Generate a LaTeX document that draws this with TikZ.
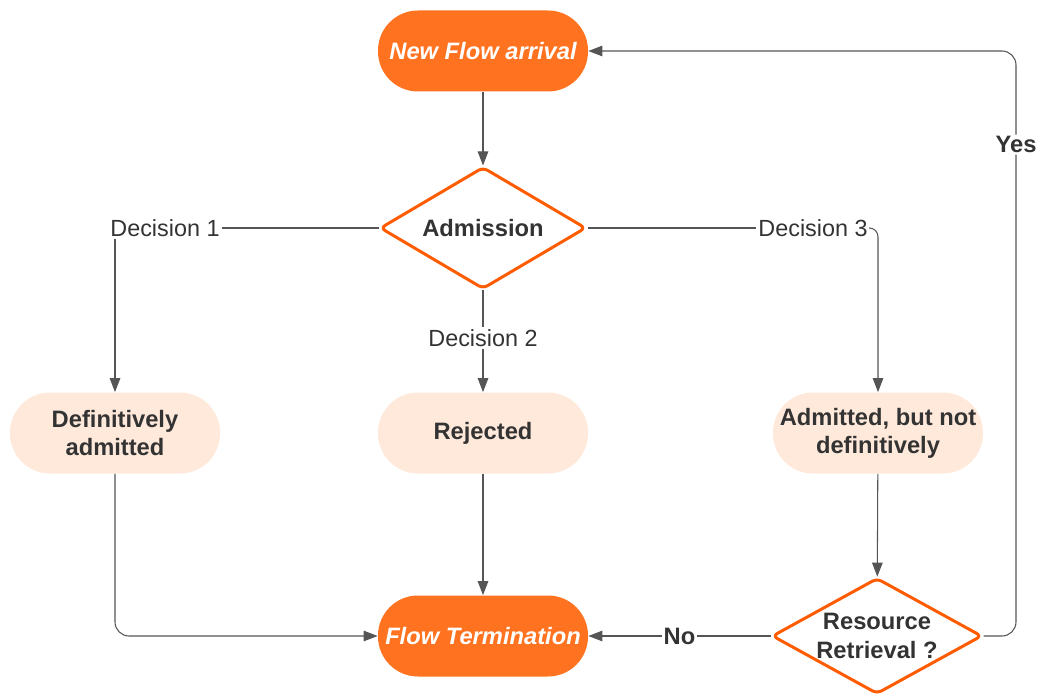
\documentclass[tikz,border=0pt]{standalone}
\usepackage{fontspec}
\setmainfont{Liberation Sans}
\usepackage{tikz}
\usetikzlibrary{
    shapes.geometric,
    arrows.meta
}
\definecolor{flowor}{RGB}{255,114,32}
\definecolor{lineor}{RGB}{255,92,0}
\definecolor{peach}{RGB}{255,233,219}
\definecolor{txt}{RGB}{51,51,51}
\definecolor{wire}{RGB}{85,85,85}
\tikzset{
    >={Triangle[length=8pt,width=6pt]},
    every node/.style={
        font=\fontsize{13.3}{15.8}\selectfont,
        text=txt
    },
    terminal/.style={
        rectangle,
        rounded corners=0.8cm,
        fill=flowor,
        minimum width=4.2cm,
        minimum height=1.62cm,
        inner xsep=1pt,
        font=\fontsize{13.5}{16}\selectfont\bfseries\itshape,
        text=white
    },
    outcome/.style={
        rectangle,
        rounded corners=0.8cm,
        fill=peach,
        minimum width=4.2cm,
        minimum height=1.62cm,
        inner xsep=1pt,
        align=center,
        font=\fontsize{13.5}{16}\selectfont\bfseries
    },
    choice/.style={
        diamond,
        draw=lineor,
        line width=1.7pt,
        rounded corners=3pt,
        fill=white,
        inner sep=0pt,
        align=center,
        font=\fontsize{13.5}{16}\selectfont\bfseries
    },
    wire/.style={
        draw=wire,
        line width=0.6pt
    },
    tag/.style={
        inner sep=1pt,
        fill=white
    }
}

\begin{document}
\begin{tikzpicture}
    \useasboundingbox (0,0) rectangle (20.78,-13.92);

    % Inicio
    \node[terminal] (arr) at (9.66,-1.02) {New Flow arrival};

    % Admision
    \node[choice, aspect=1.69, minimum width=4.12cm, minimum height=2.44cm]
        (adm) at (9.66,-4.56) {Admission};

    % Decisiones
    \node[tag] (d1) at (3.3,-4.56)   {Decision 1};
    \node[tag] (d2) at (9.66,-6.76)  {Decision 2};
    \node[tag] (d3) at (16.26,-4.56) {Decision 3};

    % Resultados
    \node[outcome] (dfa) at (2.3,-8.66)   {Definitively\\admitted};
    \node[outcome] (rej) at (9.66,-8.66)  {Rejected};
    \node[outcome] (adn) at (17.56,-8.66) {Admitted, but not\\definitively};

    % Final
    \node[terminal] (ter) at (9.66,-12.72) {Flow Termination};
    \node[choice, aspect=1.81, minimum width=4.2cm, minimum height=2.32cm]
        (res) at (17.54,-12.72) {Resource\\Retrieval ?};

    \coordinate (yc) at (20.32,-12.72);

    % Conexiones
    \draw[wire, ->] (arr) -- (adm);

    \draw[wire] (adm.west) -- (d1.east);
    \draw[wire, ->] (d1.south -| dfa.north) -- (dfa.north);
    \draw[wire] (adm.south) -- (d2.north);
    \draw[wire, ->] (d2) -- (rej);
    \draw[wire] (adm.east) -- (d3.west);
    \draw[wire, ->, rounded corners=5pt] (d3.east) -| (adn.north);

    \draw[wire, ->, rounded corners=8pt] (dfa.south) |- (ter.west);
    \draw[wire, ->] (rej) -- (ter);
    \draw[wire, ->] (adn) -- (res);

    \draw[wire, ->] (res.west) -- node[tag, font=\fontsize{13.5}{16}\selectfont\bfseries] {No} (ter.east);
    \draw[wire, ->, rounded corners=8pt] (res.east) -- (yc) |- node[tag, pos=0.42, font=\fontsize{13.5}{16}\selectfont\bfseries] {Yes} (arr.east);

\end{tikzpicture}
\end{document}
